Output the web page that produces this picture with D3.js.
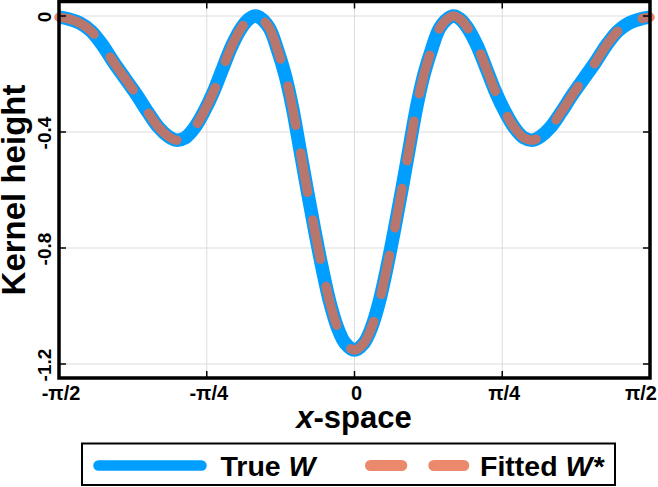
<!DOCTYPE html>
<meta charset="utf-8">
<style>
body{
    margin: 0;
    background: #fff;
}
svg text{
    font-family: "Liberation Sans", Arial, sans-serif;
    font-weight: bold;
    fill: #000;
}
</style>
<body>
    <div class="wrap"></div>
    <script src="https://d3js.org/d3.v7.min.js"></script>
    <script>
        // values
        const xSpace = [-1.571, -1.52, -1.46, -1.40, -1.34, -1.28, -1.22, -1.16, -1.10, -1.04, -0.99, -0.946,
                        -0.90, -0.85, -0.80, -0.75, -0.70, -0.65, -0.60, -0.56, -0.527, -0.49, -0.45, -0.41,
                        -0.37, -0.33, -0.29, -0.25, -0.21, -0.17, -0.13, -0.09, -0.05, 0,
                        0.05, 0.09, 0.13, 0.17, 0.21, 0.25, 0.29, 0.33, 0.37, 0.41, 0.45, 0.49, 0.527,
                        0.56, 0.60, 0.65, 0.70, 0.75, 0.80, 0.85, 0.90, 0.946, 0.99, 1.04, 1.10, 1.16,
                        1.22, 1.28, 1.34, 1.40, 1.46, 1.52, 1.571];
        const trueW = [-0.004, -0.010, -0.024, -0.052, -0.100, -0.160, -0.215, -0.270, -0.330, -0.385, -0.415, -0.428,
                       -0.420, -0.385, -0.330, -0.262, -0.180, -0.100, -0.040, -0.010, 0.000, -0.012, -0.045, -0.115,
                       -0.200, -0.315, -0.460, -0.605, -0.745, -0.875, -0.990, -1.075, -1.128, -1.152,
                       -1.128, -1.075, -0.990, -0.875, -0.745, -0.605, -0.460, -0.315, -0.200, -0.115, -0.045, -0.012, 0.000,
                       -0.010, -0.040, -0.100, -0.180, -0.262, -0.330, -0.385, -0.420, -0.428, -0.415, -0.385, -0.330, -0.270,
                       -0.215, -0.160, -0.100, -0.052, -0.024, -0.010, -0.004];
        const fittedW = [-0.004, -0.010, -0.024, -0.052, -0.100, -0.160, -0.215, -0.270, -0.330, -0.385, -0.415, -0.428,
                         -0.420, -0.385, -0.330, -0.262, -0.180, -0.100, -0.040, -0.010, 0.000, -0.012, -0.045, -0.115,
                         -0.200, -0.315, -0.460, -0.605, -0.745, -0.875, -0.990, -1.075, -1.128, -1.152,
                         -1.128, -1.075, -0.990, -0.875, -0.745, -0.605, -0.460, -0.315, -0.200, -0.115, -0.045, -0.012, 0.000,
                         -0.010, -0.040, -0.100, -0.180, -0.262, -0.330, -0.385, -0.420, -0.428, -0.415, -0.385, -0.330, -0.270,
                         -0.215, -0.160, -0.100, -0.052, -0.024, -0.010, -0.004];
        const xTicks = [-Math.PI / 2, -Math.PI / 4, 0, Math.PI / 4, Math.PI / 2];
        const xTickLabels = ["-π/2", "-π/4", "0", "π/4", "π/2"];
        const yTicks = [0, -0.4, -0.8, -1.2];
        const yTickLabels = ["0", "-0.4", "-0.8", "-1.2"];

        const width = 658;
        const height = 487;
        const blue = "#009fff";
        const orange = "#e66c48";

        const svg = d3.select(".wrap")
                    .append("svg")
                    .attr("width", width)
                    .attr("height", height);

        const x = d3.scaleLinear()
                    .domain([-Math.PI / 2, Math.PI / 2])
                    .range([59, 650]);
        const y = d3.scaleLinear()
                    .domain([-1.2, 0])
                    .range([364, 16]);
        const yTop = 1.5, yBottom = 378;

        // grid
        svg.append("g")
            .selectAll("line")
            .data(xTicks.slice(1, -1))
            .join("line")
            .attr("x1", d => x(d)).attr("x2", d => x(d))
            .attr("y1", yTop).attr("y2", yBottom)
            .style("stroke", "#dcdcdc").style("stroke-width", 1);
        svg.append("g")
            .selectAll("line")
            .data(yTicks)
            .join("line")
            .attr("x1", x.range()[0]).attr("x2", x.range()[1])
            .attr("y1", d => y(d)).attr("y2", d => y(d))
            .style("stroke", "#dcdcdc").style("stroke-width", 1);

        const pts = (vals) => xSpace.map((v, i) => [v, vals[i]]);
        const line = d3.line()
                    .x(d => x(d[0]))
                    .y(d => y(d[1]))
                    .curve(d3.curveCatmullRom.alpha(0.5));

        svg.append("path")
            .attr("d", line(pts(trueW)))
            .style("fill", "none")
            .style("stroke", blue)
            .style("stroke-width", 13.5)
            .style("stroke-linejoin", "round");
        svg.append("path")
            .attr("d", line(pts(fittedW)))
            .style("fill", "none")
            .style("stroke", orange)
            .style("stroke-opacity", 0.8)
            .style("stroke-width", 9.5)
            .style("stroke-linecap", "round")
            .style("stroke-linejoin", "round")
            .style("stroke-dasharray", "40 28");

        // ticks on all four sides, pointing inward
        const tk = svg.append("g").style("stroke", "#000").style("stroke-width", 1.5);
        xTicks.slice(1, -1).forEach(d => {
            tk.append("line").attr("x1", x(d)).attr("x2", x(d)).attr("y1", yBottom).attr("y2", yBottom - 7);
            tk.append("line").attr("x1", x(d)).attr("x2", x(d)).attr("y1", yTop).attr("y2", yTop + 7);
        });
        yTicks.forEach(d => {
            tk.append("line").attr("x1", x.range()[0]).attr("x2", x.range()[0] + 7).attr("y1", y(d)).attr("y2", y(d));
            tk.append("line").attr("x1", x.range()[1]).attr("x2", x.range()[1] - 7).attr("y1", y(d)).attr("y2", y(d));
        });

        // frame
        svg.append("rect")
            .attr("x", x.range()[0]).attr("y", yTop)
            .attr("width", x.range()[1] - x.range()[0])
            .attr("height", yBottom - yTop)
            .style("fill", "none")
            .style("stroke", "#000")
            .style("stroke-width", 3.5);

        // tick labels (last one kept inside the window, as in the reference)
        svg.append("g")
            .selectAll("text")
            .data(xTicks)
            .join("text")
            .attr("x", (d, i) => i === xTicks.length - 1 ? 657 : x(d) + 2)
            .attr("y", 400)
            .attr("text-anchor", (d, i) => i === xTicks.length - 1 ? "end" : "middle")
            .style("font-size", "20px")
            .text((d, i) => xTickLabels[i]);
        svg.append("g")
            .selectAll("text")
            .data(yTicks)
            .join("text")
            .attr("transform", d => `translate(50.5,${y(d) + 1}) rotate(-90)`)
            .attr("text-anchor", "middle")
            .style("font-size", "19px")
            .text((d, i) => yTickLabels[i]);

        // axis titles
        const xt = svg.append("text")
            .attr("x", 354).attr("y", 428)
            .attr("text-anchor", "middle")
            .style("font-size", "31px");
        xt.append("tspan").style("font-style", "italic").text("x");
        xt.append("tspan").text("-space");

        svg.append("text")
            .attr("transform", "translate(25,190) rotate(-90)")
            .attr("text-anchor", "middle")
            .style("font-size", "33px")
            .text("Kernel height");

        // legend
        const lg = svg.append("g");
        lg.append("rect")
            .attr("x", 82).attr("y", 443.5)
            .attr("width", 533).attr("height", 41.5)
            .style("fill", "#fff")
            .style("stroke", "#000")
            .style("stroke-width", 2);
        lg.append("line")
            .attr("x1", 98.5).attr("x2", 201.5)
            .attr("y1", 465.5).attr("y2", 465.5)
            .style("stroke", blue)
            .style("stroke-width", 10.5)
            .style("stroke-linecap", "round");
        lg.append("line")
            .attr("x1", 370.5).attr("x2", 463.8)
            .attr("y1", 465.5).attr("y2", 465.5)
            .style("stroke", orange)
            .style("stroke-opacity", 0.8)
            .style("stroke-width", 11)
            .style("stroke-linecap", "round")
            .style("stroke-dasharray", "31.3 32");
        const t1 = lg.append("text").attr("x", 220.5).attr("y", 476).style("font-size", "28.5px");
        t1.append("tspan").text("True ");
        t1.append("tspan").style("font-style", "italic").text("W");
        const t2 = lg.append("text").attr("x", 480).attr("y", 476).style("font-size", "28.5px");
        t2.append("tspan").text("Fitted ");
        t2.append("tspan").style("font-style", "italic").text("W*");
    </script>
</body>
</html>
